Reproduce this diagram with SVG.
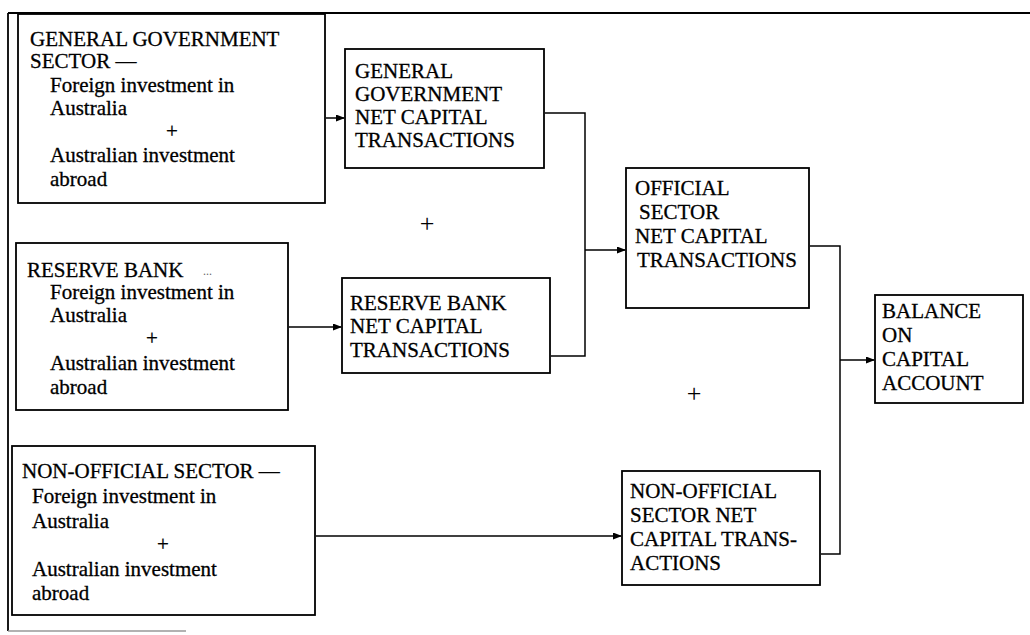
<svg xmlns="http://www.w3.org/2000/svg" width="1030" height="635" viewBox="0 0 1030 635">
<style>
.box{fill:#fff;stroke:#000;stroke-width:1.8}
.t{font-family:"Liberation Serif","Times New Roman",serif;font-size:21px;fill:#000;stroke:#000;stroke-width:0.3}
.c{fill:none;stroke:#000;stroke-width:1.5}
.plus{font-family:"Liberation Serif",serif;font-size:26px;fill:#000;text-anchor:middle}
</style>
<defs>
<marker id="ah" markerWidth="9" markerHeight="7" refX="8" refY="3.5" orient="auto" markerUnits="userSpaceOnUse">
<path d="M0,0 L9,3.5 L0,7 Z" fill="#000"/>
</marker>
</defs>
<rect width="1030" height="635" fill="#fff"/>
<g id="frame">
<line x1="8" y1="13" x2="1030" y2="13" stroke="#000" stroke-width="2"/>
<line x1="8" y1="13" x2="8" y2="631" stroke="#000" stroke-width="1.8"/>
<line x1="8" y1="631" x2="186" y2="631" stroke="#999" stroke-width="1.5"/>
</g>
<g id="connectors">
<line class="c" x1="326" y1="118" x2="344" y2="118" marker-end="url(#ah)"/>
<line class="c" x1="289" y1="327" x2="341" y2="327" marker-end="url(#ah)"/>
<line class="c" x1="316" y1="536" x2="621" y2="536" marker-end="url(#ah)"/>
<polyline class="c" points="545,113 585,113 585,356 551,356"/>
<line class="c" x1="585" y1="250" x2="625" y2="250" marker-end="url(#ah)"/>
<polyline class="c" points="810,246 840,246 840,554 821,554"/>
<line class="c" x1="840" y1="360" x2="874" y2="360" marker-end="url(#ah)"/>
</g>
<g id="gen-gov-sector">
<rect class="box" x="18" y="14" width="307" height="189"/>
<text class="t" x="30" y="46">GENERAL GOVERNMENT</text>
<text class="t" x="30" y="68">SECTOR —</text>
<text class="t" x="50" y="92">Foreign investment in</text>
<text class="t" x="50" y="115">Australia</text>
<text class="t" x="172" y="138" text-anchor="middle">+</text>
<text class="t" x="50" y="162">Australian investment</text>
<text class="t" x="50" y="186">abroad</text>
</g>
<g id="reserve-bank">
<rect class="box" x="16" y="243" width="272" height="167"/>
<text class="t" x="27" y="277">RESERVE BANK</text>
<text x="203" y="275" style="font-family:'Liberation Serif',serif;font-size:12px;fill:#666">...</text>
<text class="t" x="50" y="299">Foreign investment in</text>
<text class="t" x="50" y="322">Australia</text>
<text class="t" x="152" y="345" text-anchor="middle">+</text>
<text class="t" x="50" y="370">Australian investment</text>
<text class="t" x="50" y="394">abroad</text>
</g>
<g id="non-official-sector">
<rect class="box" x="12" y="446" width="303" height="169"/>
<text class="t" x="22" y="478">NON-OFFICIAL SECTOR —</text>
<text class="t" x="32" y="503">Foreign investment in</text>
<text class="t" x="32" y="528">Australia</text>
<text class="t" x="163" y="551" text-anchor="middle">+</text>
<text class="t" x="32" y="576">Australian investment</text>
<text class="t" x="32" y="600">abroad</text>
</g>
<g id="gen-gov-net">
<rect class="box" x="345" y="49" width="199" height="119"/>
<text class="t" x="355" y="78">GENERAL</text>
<text class="t" x="355" y="101">GOVERNMENT</text>
<text class="t" x="355" y="124">NET CAPITAL</text>
<text class="t" x="355" y="147">TRANSACTIONS</text>
</g>
<g id="reserve-bank-net">
<rect class="box" x="342" y="278" width="208" height="95"/>
<text class="t" x="350" y="310">RESERVE BANK</text>
<text class="t" x="350" y="333">NET CAPITAL</text>
<text class="t" x="350" y="357">TRANSACTIONS</text>
</g>
<g id="official-net">
<rect class="box" x="626" y="168" width="183" height="140"/>
<text class="t" x="635" y="195">OFFICIAL</text>
<text class="t" x="639" y="219">SECTOR</text>
<text class="t" x="635" y="243">NET CAPITAL</text>
<text class="t" x="637" y="267">TRANSACTIONS</text>
</g>
<g id="non-official-net">
<rect class="box" x="622" y="471" width="198" height="114"/>
<text class="t" x="630" y="498">NON-OFFICIAL</text>
<text class="t" x="630" y="522">SECTOR NET</text>
<text class="t" x="630" y="546">CAPITAL TRANS-</text>
<text class="t" x="630" y="570">ACTIONS</text>
</g>
<g id="balance">
<rect class="box" x="875" y="295" width="148" height="108"/>
<text class="t" x="882" y="318">BALANCE</text>
<text class="t" x="882" y="342">ON</text>
<text class="t" x="882" y="366">CAPITAL</text>
<text class="t" x="882" y="390">ACCOUNT</text>
</g>
<g id="plus-signs">
<text class="plus" x="427" y="232">+</text>
<text class="plus" x="694" y="402">+</text>
</g>
</svg>
